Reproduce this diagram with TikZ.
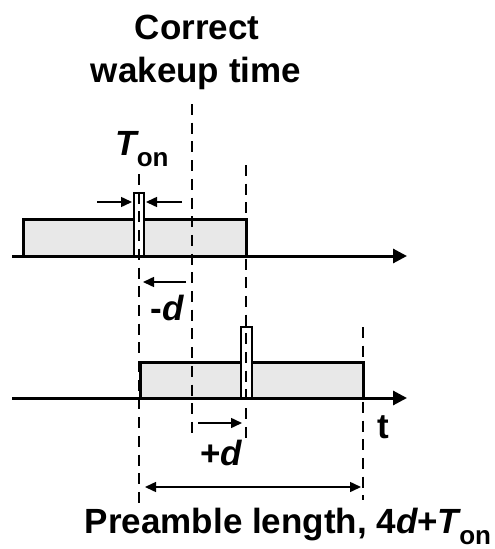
\documentclass[tikz,border=0pt]{standalone}
\usepackage{fontspec}
\setmainfont{Liberation Sans}
\usetikzlibrary{arrows.meta}
\definecolor{boxgray}{HTML}{E8E8E8}
\tikzset{
 axis/.style={line width=3pt, -{Triangle[length=14pt,width=14pt]}},
 box/.style={line width=3pt, fill=boxgray},
 pulse/.style={line width=2.5pt, fill=white},
 guide/.style={line width=2.7pt, dash pattern=on 11pt off 7.7pt},
 dimarrow/.style={line width=1.5pt, -{Triangle[length=11pt,width=10pt]}},
 dimboth/.style={line width=1.5pt, {Triangle[length=11pt,width=10pt]}-{Triangle[length=11pt,width=10pt]}},
 lbl/.style={font=\fontsize{35}{41}\selectfont\bfseries, inner sep=0pt, anchor=base}
}
\newcommand{\subon}{\raisebox{-0.32em}{\fontsize{26}{30}\selectfont on}}
\begin{document}
\begin{tikzpicture}[x=1pt,y=-1pt]
\useasboundingbox (0,0) rectangle (495,549);
% top signal
\draw[box] (23,256) rectangle (246,219);
\draw[pulse] (134,256) rectangle (144,193);
\draw[axis] (12,256) coordinate (a1s) -- (407,256) coordinate (a1e);
% bottom signal
\draw[box] (140,398) rectangle (363,362);
\draw[pulse] (241,398) rectangle (252,327);
\draw[axis] (12,398) coordinate (a2s) -- (407,398) coordinate (a2e);
% guides
\draw[guide] (139,174) -- (139,503);
\draw[guide] (192,104) -- (192,433);
\draw[guide] (246,165) -- (246,440);
\draw[guide] (363,327) -- (363,500);
% arrows
\coordinate (ton1s) at (97,202); \coordinate (ton1e) at (132,202);
\coordinate (ton2s) at (182,202); \coordinate (ton2e) at (146,202);
\draw[dimarrow] (ton1s) -- (ton1e);
\draw[dimarrow] (ton2s) -- (ton2e);
\coordinate (md1) at (186,282); \coordinate (md2) at (143,282);
\draw[dimarrow] (md1) -- (md2);
\coordinate (pd1) at (198,423); \coordinate (pd2) at (242,423);
\draw[dimarrow] (pd1) -- (pd2);
\coordinate (pl1) at (145,487); \coordinate (pl2) at (361,487);
\draw[dimboth] (pl1) -- (pl2);
% labels
\node[lbl] (c1) at (197,39) {Correct};
\node[lbl] (c2) at (196,82) {wakeup time};
\node[lbl] (ton) at (142,155) {{\itshape T}\subon};
\node[lbl] (md) at (167,320) {-{\itshape d}};
\node[lbl] (pd) at (221,465) {+{\itshape d}};
\node[lbl] (t) at (383,438) {t};
\node[lbl] (pre) at (288,533) {Preamble length, 4{\itshape d}+{\itshape T}\subon};
\end{tikzpicture}
\end{document}
